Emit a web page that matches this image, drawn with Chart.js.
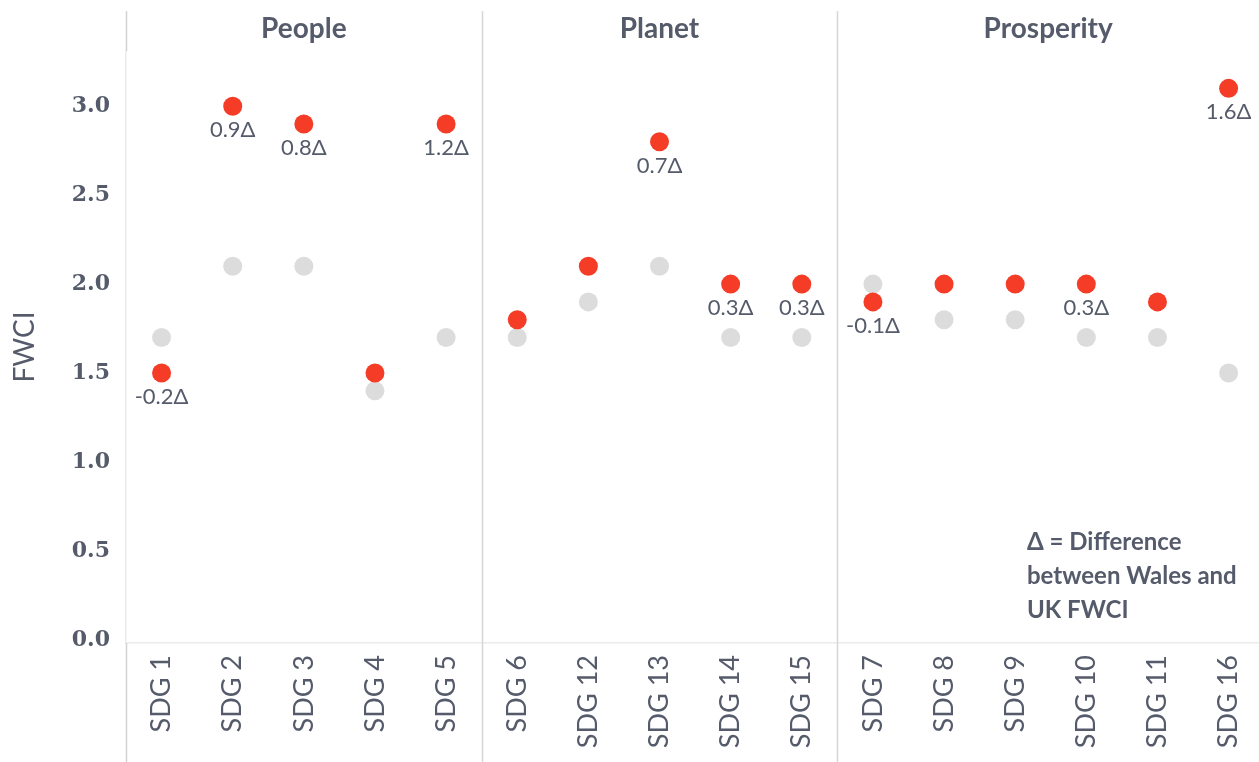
<!DOCTYPE html>
<html>
<head>
<meta charset="utf-8">
<script src="https://cdn.jsdelivr.net/npm/chart.js@4.4.1/dist/chart.umd.min.js"></script>
<style>
html,body{margin:0;padding:0;background:#fff;overflow:hidden;}
#wrap{width:1273px;height:762px;position:relative;}
</style>
</head>
<body>
<div id="wrap"><canvas id="c" width="1273" height="762"></canvas></div>
<script>
const categories = ["SDG 1","SDG 2","SDG 3","SDG 4","SDG 5","SDG 6","SDG 12","SDG 13","SDG 14","SDG 15","SDG 7","SDG 8","SDG 9","SDG 10","SDG 11","SDG 16"];
const groups = ["People","Planet","Prosperity"];
const groupSizes = [5,5,6];
const walesFWCI = [1.5,3.0,2.9,1.5,2.9,1.8,2.1,2.8,2.0,2.0,1.9,2.0,2.0,2.0,1.9,3.1];
const ukFWCI    = [1.7,2.1,2.1,1.4,1.7,1.7,1.9,2.1,1.7,1.7,2.0,1.8,1.8,1.7,1.7,1.5];
const deltaLabels = ["-0.2\u0394","0.9\u0394","0.8\u0394","","1.2\u0394","","","0.7\u0394","0.3\u0394","0.3\u0394","-0.1\u0394","","","0.3\u0394","","1.6\u0394"];
const yTicks = [0,0.5,1.0,1.5,2.0,2.5,3.0];
const legendLines = ["\u0394 = Difference","between Wales and","UK FWCI"];

const TXT = '#555b6a';
const SANS = 'Lato, "Open Sans", sans-serif';
const VIEW_W = 1259;

const overlay = {
  id: 'overlay',
  afterDraw(chart) {
    const ctx = chart.ctx;
    const xs = chart.scales.x, ys = chart.scales.y;
    const ca = chart.chartArea;
    const H = chart.height;
    const topY = 11;
    ctx.save();
    const bounds = [ca.left];
    let idx = 0;
    for (let g = 0; g < groupSizes.length; g++) {
      idx += groupSizes[g];
      if (idx < categories.length) {
        bounds.push((xs.getPixelForValue(idx - 1) + xs.getPixelForValue(idx)) / 2);
      } else {
        bounds.push(ca.right);
      }
    }
    ctx.lineWidth = 1.5;
    ctx.strokeStyle = '#d2d2d2';
    ctx.beginPath();
    ctx.moveTo(ca.left + 0.5, topY); ctx.lineTo(ca.left + 0.5, ca.top);
    ctx.moveTo(ca.left + 0.5, ca.bottom); ctx.lineTo(ca.left + 0.5, H);
    ctx.stroke();
    ctx.strokeStyle = '#d6d6d6';
    ctx.beginPath();
    for (let i = 1; i < bounds.length - 1; i++) {
      ctx.moveTo(Math.round(bounds[i]) + 0.5, topY);
      ctx.lineTo(Math.round(bounds[i]) + 0.5, H);
    }
    ctx.stroke();
    ctx.fillStyle = TXT;
    ctx.font = 'bold 28px ' + SANS;
    ctx.textAlign = 'center';
    ctx.textBaseline = 'middle';
    for (let g = 0; g < groups.length; g++) {
      const right = Math.min(bounds[g + 1], VIEW_W);
      ctx.fillText(groups[g], (bounds[g] + right) / 2, 29);
    }
    ctx.font = '22px ' + SANS;
    ctx.textBaseline = 'middle';
    for (let i = 0; i < categories.length; i++) {
      if (!deltaLabels[i]) continue;
      const x = xs.getPixelForValue(i);
      const y = ys.getPixelForValue(walesFWCI[i]);
      ctx.fillText(deltaLabels[i], x, y + 24);
    }
    ctx.font = 'bold 24px ' + SANS;
    ctx.textAlign = 'left';
    for (let k = 0; k < legendLines.length; k++) {
      ctx.fillText(legendLines[k], 1027, 542 + k * 34);
    }
    ctx.restore();
  }
};

new Chart(document.getElementById('c'), {
  type: 'line',
  data: {
    labels: categories,
    datasets: [
      { label: 'Wales', data: walesFWCI, showLine: false, order: 0,
        pointRadius: 9.5, pointHoverRadius: 9.5, pointBorderWidth: 0,
        pointBackgroundColor: '#f43c27', pointBorderColor: '#f43c27' },
      { label: 'UK', data: ukFWCI, showLine: false, order: 1,
        pointRadius: 9.5, pointHoverRadius: 9.5, pointBorderWidth: 0,
        pointBackgroundColor: '#dcdcdc', pointBorderColor: '#dcdcdc' }
    ]
  },
  options: {
    responsive: false,
    animation: false,
    events: [],
    layout: { autoPadding: false, padding: { top: 51, left: 0, right: 0, bottom: 0 } },
    plugins: { legend: { display: false }, tooltip: { enabled: false } },
    scales: {
      x: {
        type: 'category',
        offset: true,
        grid: { display: false, drawTicks: false },
        border: { display: true, color: '#ececec', width: 1.5 },
        ticks: { maxRotation: 90, minRotation: 90, autoSkip: false, padding: 12,
                 color: TXT, font: { family: SANS, size: 27 } },
        afterFit(s) { s.height = 119; }
      },
      y: {
        min: -0.017,
        max: 3.31,
        grid: { display: false, drawTicks: false },
        border: { display: true, color: '#ececec', width: 1.5 },
        title: { display: true, text: 'FWCI', color: TXT, padding: { top: 8, bottom: 0 },
                 font: { family: SANS, size: 28 } },
        afterBuildTicks(s) { s.ticks = yTicks.map(v => ({ value: v })); },
        ticks: { color: TXT, padding: 16, font: { family: '"DejaVu Serif", serif', size: 22, weight: 'bold' },
                 callback: (v) => Number(v).toFixed(1) },
        afterFit(s) { s.width = 126; }
      }
    }
  },
  plugins: [overlay]
});
</script>
</body>
</html>
